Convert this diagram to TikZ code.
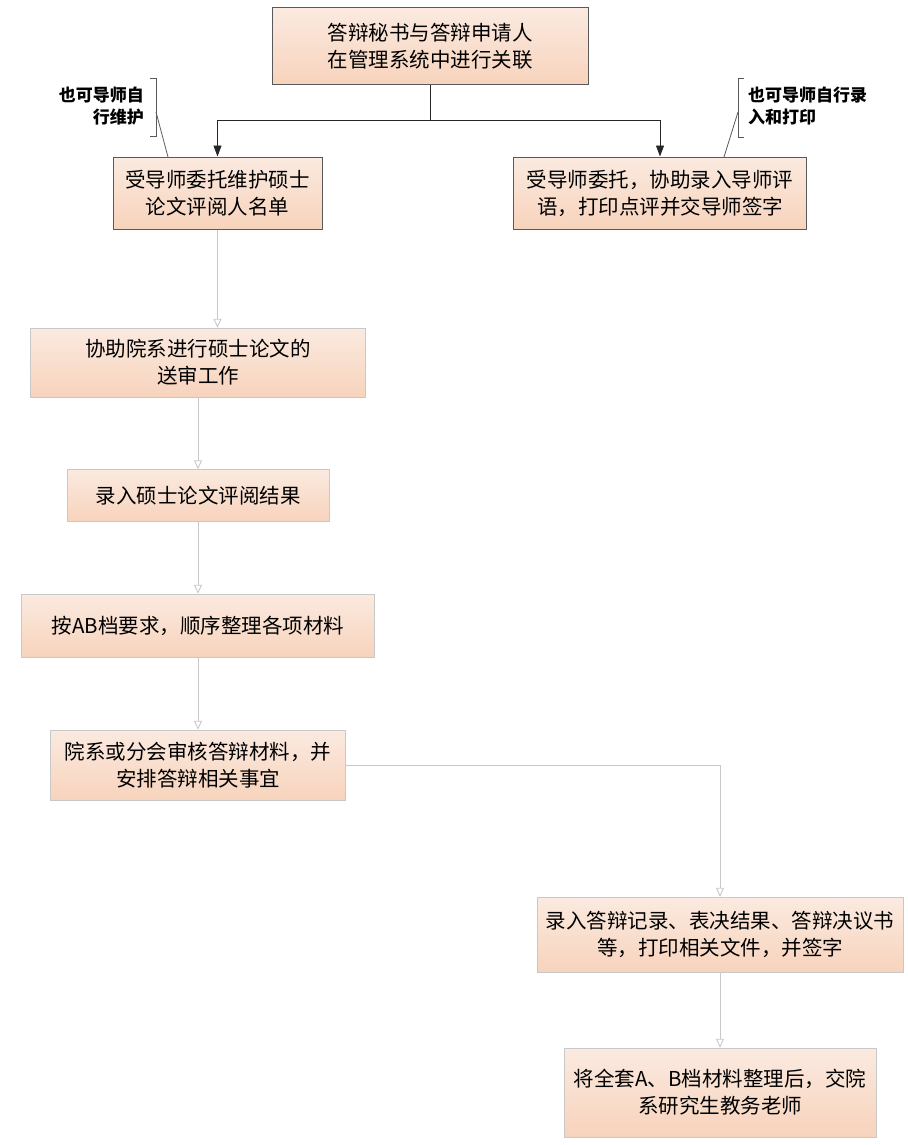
\documentclass[tikz,border=0pt]{standalone}
\usepackage{fontspec}
\setmainfont{Noto Sans CJK SC}
\usepackage{tikz}
\usetikzlibrary{positioning,arrows.meta}

\definecolor{peach}{HTML}{F7D3BC}
\definecolor{peachlight}{HTML}{FBEAE0}
\definecolor{edgegray}{HTML}{595959}
\definecolor{linegray}{HTML}{C8C8C8}

\begin{document}
\begin{tikzpicture}[x=1pt, y=-1pt,
    every node/.style = {align=center, inner sep=2pt},
    box/.style = {shape=rectangle, draw=linegray,
      top color=peachlight, bottom color=peach,
      font=\fontsize{20.5}{27}\selectfont},
    mainbox/.style = {box, draw=edgegray, line width=1pt},
    note/.style = {font=\fontsize{17}{22}\selectfont\bfseries},
    link/.style = {draw=black!85, line width=0.9pt,
      -{Triangle[length=11pt, width=8pt]}},
    flow/.style = {draw=linegray, line width=0.9pt,
      -{Triangle[open, length=9pt, width=8pt]}},
    brk/.style = {draw=edgegray, line width=0.8pt}]
  \useasboundingbox (0,0) rectangle (907,1145);

  % association and the two delegated tasks
  \node[mainbox, minimum width=316pt, minimum height=77pt] (assoc) at (430,46.5)
    {答辩秘书与答辩申请人\\在管理系统中进行关联};
  \node[mainbox, minimum width=209pt, minimum height=72pt] (maintain) at (217.5,193)
    {受导师委托维护硕士\\论文评阅人名单};
  \node[mainbox, minimum width=293pt, minimum height=72pt] (comment) at (660,193)
    {受导师委托，协助录入导师评\\语，打印点评并交导师签字};

  % side notes
  \node[note, anchor=east, align=right] (selfkeep) at (146,106) {也可导师自\\行维护};
  \node[note, anchor=west, align=left] (selfenter) at (746,106) {也可导师自行录\\入和打印};
  \coordinate (keeptop) at (156,112);
  \coordinate (keepfoot) at (168,157);
  \coordinate (entertop) at (738,112);
  \coordinate (enterfoot) at (724,157);
  \draw[brk] (150,78) -- (156,78) -- (156,136) -- (150,136);
  \draw[brk] (744,78) -- (738,78) -- (738,137) -- (744,137);
  \draw[brk] (keeptop) -- (keepfoot);
  \draw[brk] (entertop) -- (enterfoot);

  % main flow
  \node[box, minimum width=335pt, minimum height=69pt] (send) at (198,362.5)
    {协助院系进行硕士论文的\\送审工作};
  \node[box, minimum width=262pt, minimum height=52pt] (review) at (198,495.5)
    {录入硕士论文评阅结果};
  \node[box, minimum width=353pt, minimum height=63pt] (archive) at (198,625.5)
    {按AB档要求，顺序整理各项材料};
  \node[box, minimum width=295pt, minimum height=70pt] (audit) at (198,765)
    {院系或分会审核答辩材料，并\\安排答辩相关事宜};
  \node[box, minimum width=366pt, minimum height=75pt] (record) at (720,934.5)
    {录入答辩记录、表决结果、答辩决议书\\等，打印相关文件，并签字};
  \node[box, minimum width=312pt, minimum height=89pt] (handover) at (720,1092.5)
    {将全套A、B档材料整理后，交院\\系研究生教务老师};

  % connectors
  \coordinate (split) at (430,120);
  \draw[draw=black!85, line width=0.9pt] (assoc) -- (split);
  \draw[link] (split) -| (maintain);
  \draw[link] (split) -| (comment);
  \draw[flow] (maintain) -- (maintain |- send.north);
  \draw[flow] (send) -- (review);
  \draw[flow] (review) -- (archive);
  \draw[flow] (archive) -- (audit);
  \draw[flow] (audit.east) -| (record.north);
  \draw[flow] (record) -- (handover);
\end{tikzpicture}
\end{document}
